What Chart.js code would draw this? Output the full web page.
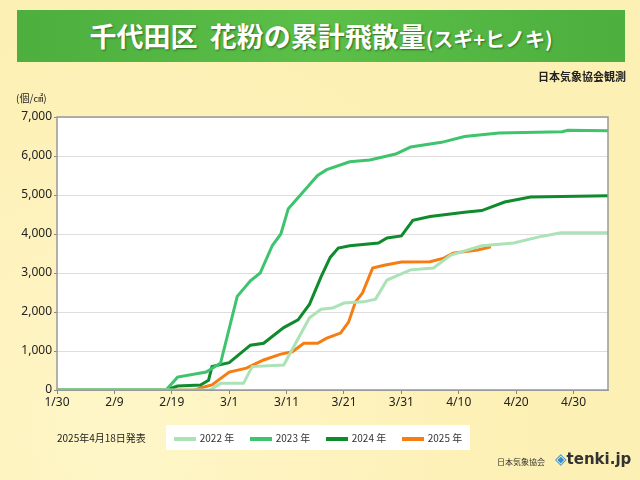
<!DOCTYPE html>
<html>
<head>
<meta charset="utf-8">
<script src="https://cdn.jsdelivr.net/npm/chart.js@4"></script>
<style>
  body { margin: 0; width: 640px; height: 480px; overflow: hidden;
         background: radial-gradient(circle at 20% 90%, #fff6c8 0, #fdf0b4 60%); font-family: "Noto Sans CJK JP", sans-serif; }
  #wrap { position: relative; width: 640px; height: 480px; }
  canvas { position: absolute; left: 0; top: 0; }
  .abs { position: absolute; white-space: nowrap; }
  #head { left: 17px; top: 10px; width: 608px; height: 52px; background: linear-gradient(90deg, #4caf3e, #5cbf48 50%, #4caf3e);
          color: #fff; font-weight: bold; font-size: 27px; line-height: 52px; text-align: center;
          text-shadow: 1px 1px 2px #2d6b22; }
  #head small { font-size: 20px; }
  #legend { left: 166px; top: 425px; width: 304px; height: 25px; background: #fff; font-size: 10px; color: #333;
            display: flex; align-items: center; justify-content: space-around; }
  #legend span i { display: inline-block; width: 22px; height: 4px; vertical-align: middle; margin-right: 4px; }
</style>
</head>
<body>
<div id="wrap">
  <canvas id="c" width="640" height="480"></canvas>
  <div id="head" class="abs">千代田区&nbsp;&nbsp;花粉の累計飛散量<small>(スギ+ヒノキ)</small></div>
  <div class="abs" style="right:14px;top:68px;font-size:11px;font-weight:bold;color:#222;">日本気象協会観測</div>
  <div class="abs" style="left:16px;top:90px;font-size:10px;color:#222;">(個/㎠)</div>
  <div class="abs" style="left:57px;top:430px;font-size:10px;color:#222;">2025年4月18日発表</div>
  <div id="legend" class="abs"></div>
  <div class="abs" style="left:497px;top:456px;font-size:8px;color:#333;">日本気象協会</div>
  <div class="abs" style="left:555px;top:450px;font-size:15px;font-weight:bold;color:#333;font-family:'DejaVu Sans';"><span style="color:#2a8fd6">◈</span>tenki.jp</div>
</div>
<script>
// days counted from 1/30
const tickDays = [0, 10, 20, 30, 40, 50, 60, 70, 80, 90];
const tickLabels = ['1/30', '2/9', '2/19', '3/1', '3/11', '3/21', '3/31', '4/10', '4/20', '4/30'];
const seriesNames = ['2022 年', '2023 年', '2024 年', '2025 年'];
const seriesColors = ['#abe2b6', '#3ec46c', '#0f8a2c', '#f67d12'];

const y2022 = [[0,0],[26.7,0],[28.5,170],[32.5,170],[34,600],[39.5,640],[44,1850],[46,2070],[48,2100],[50,2230],
  [53.4,2260],[55.5,2330],[57.5,2820],[61.6,3080],[65.6,3130],[68.6,3460],[74,3700],[79.6,3770],[83.8,3920],[87.8,4030],[96,4030]];
const y2023 = [[0,0],[19,0],[21,330],[26,460],[28.5,690],[31.4,2400],[33.7,2800],[35.4,3000],[37.5,3700],[39,4000],
  [40.3,4650],[43.6,5200],[45.4,5500],[47,5650],[51,5850],[54.5,5900],[59,6050],[61.6,6230],[67,6350],[71,6500],
  [77,6590],[88,6620],[89,6660],[96,6650]];
const y2024 = [[0,0],[19,0],[21,100],[25,130],[26.4,250],[27,600],[30,700],[33.7,1150],[36,1200],[39.5,1600],[42,1800],
  [44,2200],[46,2900],[47.6,3400],[49,3640],[51,3700],[56,3770],[57.5,3900],[60,3950],[62,4350],[65,4450],[71,4560],
  [74,4600],[78,4820],[82.5,4950],[96,4980]];
const y2025 = [[0,0],[24,0],[25,50],[27,130],[30,460],[33,560],[36,770],[39,920],[41,980],[43,1200],[45.4,1200],
  [47,1330],[49.4,1460],[50.8,1740],[52,2260],[53.2,2480],[55,3130],[57,3200],[60,3280],[65,3290],[67.4,3380],
  [69,3510],[73.3,3590],[75.6,3670]];
const allSeries = [y2022, y2023, y2024, y2025];

document.getElementById('legend').innerHTML = seriesNames.map((n, i) =>
  `<span><i style="background:${seriesColors[i]}"></i>${n}</span>`).join('');

const areaBg = {
  id: 'areaBg',
  beforeDraw(chart) {
    const { ctx, chartArea: a } = chart;
    ctx.save();
    ctx.fillStyle = '#fff';
    ctx.fillRect(a.left, a.top, a.right - a.left, a.bottom - a.top);
    ctx.restore();
  },
  afterDraw(chart) {
    const { ctx, chartArea: a } = chart;
    ctx.save();
    ctx.strokeStyle = '#999';
    ctx.lineWidth = 1.5;
    ctx.strokeRect(a.left, a.top, a.right - a.left, a.bottom - a.top);
    ctx.restore();
  }
};

new Chart(document.getElementById('c'), {
  type: 'line',
  data: {
    datasets: allSeries.map((s, i) => ({
      label: seriesNames[i],
      data: s.map(p => ({ x: p[0], y: p[1] })),
      borderColor: seriesColors[i],
      borderWidth: 3,
      pointRadius: 0,
      tension: 0
    }))
  },
  options: {
    responsive: false,
    animation: false,
    layout: { padding: { top: 117, right: 32, bottom: 65, left: 0 } },
    plugins: { legend: { display: false }, tooltip: { enabled: false } },
    scales: {
      x: {
        type: 'linear', min: 0, max: 96,
        afterFit(s) { s.height = 25; },
        afterBuildTicks(s) { s.ticks = tickDays.map(v => ({ value: v })); },
        grid: { drawOnChartArea: false, drawTicks: true, tickLength: 4, color: '#888' },
        border: { color: '#999' },
        ticks: { color: '#222', font: { size: 12, family: 'Noto Sans' }, padding: 1,
                 callback: v => tickLabels[tickDays.indexOf(v)] }
      },
      y: {
        min: 0, max: 7000,
        afterFit(s) { s.width = 57; },
        grid: { color: '#ddd', tickLength: 3, tickColor: '#888' },
        border: { display: false },
        ticks: { stepSize: 1000, color: '#222', font: { size: 12, family: 'Noto Sans' }, padding: 2,
                 callback: v => v.toLocaleString('en-US') }
      }
    }
  },
  plugins: [areaBg]
});
</script>
</body>
</html>
